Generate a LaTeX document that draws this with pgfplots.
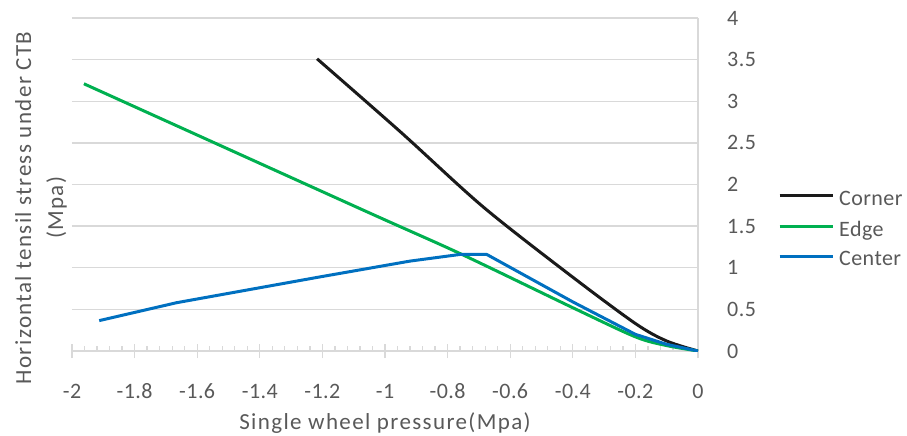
\documentclass[border=0pt]{standalone}
\usepackage{fontspec}
\setmainfont{Carlito}
\usepackage{pgfplots}
\pgfplotsset{compat=1.18}

\definecolor{txt}{HTML}{595959}
\definecolor{gridc}{HTML}{D9D9D9}
\definecolor{cornerc}{HTML}{1A1A1A}
\definecolor{edgec}{HTML}{00B050}
\definecolor{centerc}{HTML}{0070C0}
\newcommand{\fs}{\fontsize{22bp}{27bp}\selectfont\addfontfeatures{LetterSpace=2}}
\newcommand{\fl}{\fontsize{23bp}{32bp}\selectfont\addfontfeatures{LetterSpace=6}}

\begin{document}
\begin{tikzpicture}
\useasboundingbox (-72bp,-85bp) rectangle (835bp,351bp);
\begin{axis}[
  at={(0,0)}, anchor=south west,
  scale only axis, width=626bp, height=333bp,
  xmin=-2, xmax=0, ymin=0, ymax=4,
  axis x line*=bottom, axis y line*=right,
  axis line style={gridc, line width=1.3bp},
  xtick={-2,-1.8,-1.6,-1.4,-1.2,-1,-0.8,-0.6,-0.4,-0.2,0},
  ytick={0,0.5,1,1.5,2,2.5,3,3.5,4},
  minor x tick num=4,
  tick align=center,
  major tick length=14bp, minor tick length=5bp,
  x tick style={gridc, line width=1.3bp},
  minor x tick style={yshift=2.5bp},
  y tick style={draw=none},
  ymajorgrids, grid style={gridc, line width=1.3bp},
  /pgf/number format/assume math mode=true,
  ticklabel style={font=\fs, text=txt, inner sep=0pt},
  xticklabel style={anchor=base, yshift=-40bp},
  yticklabel style={anchor=west, xshift=22bp},
  xlabel={Single wheel pressure(Mpa)},
  ylabel={Horizontal tensil stress under CTB\\(Mpa)},
  label style={font=\fl, text=txt, inner sep=0pt},
  xlabel style={at={(axis description cs:0.5,-0.237)}, anchor=base},
  ylabel style={at={(axis description cs:-0.008,0.43)}, anchor=south, align=center, rotate=0},
  legend style={draw=none, fill=none, at={(axis description cs:1,0.366)}, anchor=west,
    xshift=77bp, font=\fs, text=txt, row sep=14bp,
    nodes={inner sep=0pt}},
  legend cell align=left,
  legend image code/.code={\draw[#1] (0bp,0.3em) -- (53bp,0.3em);},
  every axis plot/.append style={line width=3bp, line join=round, mark=none},
]
\addplot[cornerc, smooth] coordinates {
  (-1.217,3.51) (-0.95,2.63) (-0.687,1.733) (-0.41,0.915) (-0.2,0.33) (-0.1,0.12) (0,0)};
\addlegendentry{\hspace{5bp}Corner}
\addplot[edgec, smooth] coordinates {
  (-1.962,3.21) (-1.08,1.71) (-0.76,1.17) (-0.4,0.52) (-0.2,0.17) (-0.1,0.065) (0,0)};
\addlegendentry{\hspace{5bp}Edge}
\addplot[centerc] coordinates {
  (-1.913,0.365) (-1.666,0.58) (-1.208,0.89) (-0.92,1.08) (-0.76,1.16) (-0.675,1.16)
  (-0.4,0.59) (-0.2,0.2) (-0.1,0.08) (0,0)};
\addlegendentry{\hspace{5bp}Center}
\end{axis}
\end{tikzpicture}
\end{document}
